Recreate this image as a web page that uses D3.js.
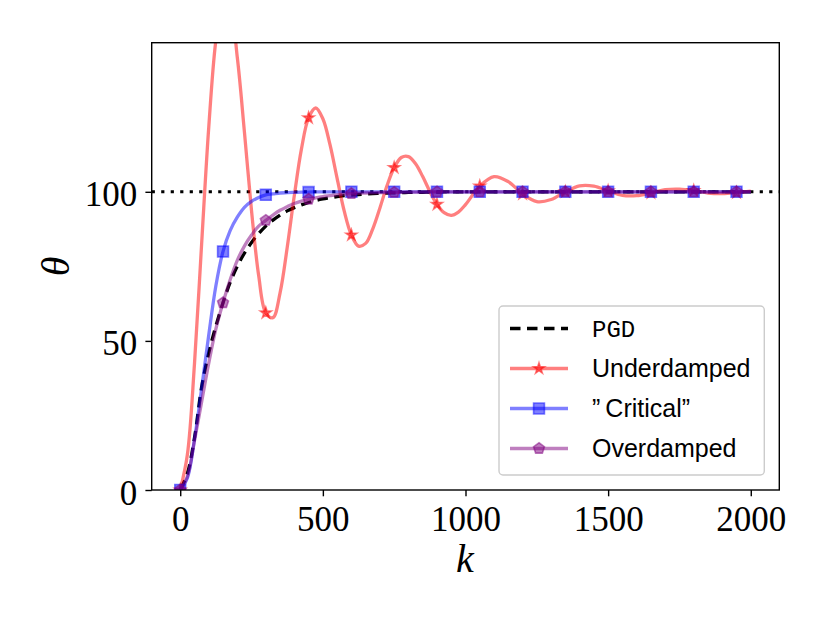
<!DOCTYPE html>
<html>
<head>
<meta charset="utf-8">
<script src="https://cdn.jsdelivr.net/npm/d3@7"></script>
<style>
  html, body { margin: 0; padding: 0; background: #ffffff; }
  svg { display: block; }
</style>
</head>
<body>
<svg id="chart" width="830" height="623"></svg>
<script>
// ---------- data ----------
const kValues = [0,25,50,75,100,125,150,175,200,225,250,275,300,325,350,375,400,425,450,475,
  500,525,550,575,600,625,650,675,700,725,750,775,800,825,850,875,900,925,950,975,1000,
  1050,1100,1150,1200,1250,1300,1350,1400,1450,1500,1550,1600,1650,1700,1750,1800,1850,1900,1950,2000];

const pgdValues = [0,5.5,17.5,34.5,46,55,62.8,69.6,75,79.4,83,86,88.5,90.5,92.2,93.6,94.7,95.6,96.4,97.1,
  97.6,98,98.4,98.7,98.9,99.1,99.25,99.4,99.5,99.6,99.65,99.7,99.8,99.85,99.85,99.9,99.9,99.95,99.95,99.95,99.95,
  100,100,100,100,100,100,100,100,100,100,100,100,100,100,100,100,100,100,100,100];

const underdampedValues = [0,11.8,42.4,82.5,121.6,150.8,164.6,161.8,145.1,120.1,93.6,71.9,59.4,57.8,66.1,81.3,98.8,114.4,124.8,128.1,
  124.5,115.8,104.5,93.5,85.5,81.8,82.7,87.6,94.6,102.1,108.1,111.5,111.8,109.4,105.1,100.1,95.8,93.0,92.1,93.2,95.7,
  101.9,105.1,103.4,99.3,96.7,97.4,100.0,102.0,101.9,100.3,98.8,98.7,99.6,100.7,100.9,100.4,99.6,99.4,99.7,100.2];

const criticalValues = [0,4,17,34,52,68.5,80,87,91.5,94.8,96.8,98.1,99.0,99.3,99.6,99.7,99.8,99.9,99.9,100,
  100,100,100,100,100,100,100,100,100,100,100,100,100,100,100,100,100,100,100,100,100,
  100,100,100,100,100,100,100,100,100,100,100,100,100,100,100,100,100,100,100,100];

const overdampedValues = [0,4.5,16.5,29.5,42.5,54,62.8,70.5,77,81.8,85.5,88.5,90.4,92.2,93.8,95,96.1,96.9,97.5,98,
  98.4,98.7,99,99.2,99.4,99.5,99.6,99.65,99.7,99.75,99.8,99.85,99.9,99.9,99.9,99.95,99.95,99.95,100,100,100,
  100,100,100,100,100,100,100,100,100,100,100,100,100,100,100,100,100,100,100,100];

const referenceValue = 100;
const markerEvery = 150;
const xTicks = [0, 500, 1000, 1500, 2000];
const yTicks = [0, 50, 100];
const seriesNames = ["PGD", "Underdamped", "\u201D\u2009Critical\u201D", "Overdamped"];
const xLabel = "k";
const yLabel = "\u03B8";

// ---------- layout ----------
const svg = d3.select("#chart");
const L = 151.7, R = 779.3, T = 42.7, B = 490;
const x = d3.scaleLinear().domain([-100, 2100]).range([L, R]);
const y = d3.scaleLinear().domain([0, 150]).range([B, T]);

const serif = "'Liberation Serif', 'DejaVu Serif', serif";
const sans = "'Liberation Sans', Arial, sans-serif";
const mono = "'Liberation Mono', 'DejaVu Sans Mono', monospace";

svg.append("defs").append("clipPath").attr("id", "plotclip")
  .append("rect").attr("x", L).attr("y", T).attr("width", R - L).attr("height", B - T);

// pentagon symbol (matplotlib 'p')
const symbolPentagon = {
  draw(context, size) {
    const r = Math.sqrt(size);
    for (let i = 0; i < 5; i++) {
      const a = -Math.PI / 2 + i * 2 * Math.PI / 5;
      const px = r * Math.cos(a), py = r * Math.sin(a);
      if (i === 0) context.moveTo(px, py); else context.lineTo(px, py);
    }
    context.closePath();
  }
};

const mkData = vals => kValues.map((k, i) => ({ k, v: vals[i] }));

const series = [
  { name: seriesNames[0], data: mkData(pgdValues), color: "#000000", opacity: 1, dash: "10.5,6.5", width: 3.3, symbol: null },
  { name: seriesNames[1], data: mkData(underdampedValues), color: "#ff0000", opacity: 0.5, dash: null, width: 3.3,
    symbol: d3.symbol().type(d3.symbolStar).size(38) },
  { name: seriesNames[2], data: mkData(criticalValues), color: "#0000ff", opacity: 0.5, dash: null, width: 3.3,
    symbol: d3.symbol().type(d3.symbolSquare).size(118) },
  { name: seriesNames[3], data: mkData(overdampedValues), color: "#800080", opacity: 0.5, dash: null, width: 3.3,
    symbol: d3.symbol().type(symbolPentagon).size(33) }
];

const plot = svg.append("g").attr("clip-path", "url(#plotclip)");

// reference dotted line
plot.append("line")
  .attr("x1", x.range()[0]).attr("x2", x.range()[1])
  .attr("y1", y(referenceValue)).attr("y2", y(referenceValue))
  .attr("stroke", "#000").attr("stroke-width", 3).attr("stroke-dasharray", "3.2,6.3");

const line = d3.line().x(d => x(d.k)).y(d => y(d.v)).curve(d3.curveCatmullRom.alpha(0.5));

series.forEach(s => {
  plot.append("path").datum(s.data)
    .attr("d", line)
    .attr("fill", "none")
    .attr("stroke", s.color)
    .attr("stroke-opacity", s.opacity)
    .attr("stroke-width", s.width)
    .attr("stroke-dasharray", s.dash)
    .attr("stroke-linejoin", "round");
  if (s.symbol) {
    plot.selectAll(null).data(s.data.filter(d => d.k % markerEvery === 0))
      .enter().append("path")
      .attr("transform", d => `translate(${x(d.k)},${y(d.v)})`)
      .attr("d", s.symbol)
      .attr("fill", s.color).attr("fill-opacity", s.opacity)
      .attr("stroke", s.color).attr("stroke-opacity", s.opacity).attr("stroke-width", 1.6);
  }
});

// axes
const xAxis = d3.axisBottom(x).tickValues(xTicks).tickFormat(d3.format("d"))
  .tickSize(6.3).tickPadding(9.4).tickSizeOuter(0);
const yAxis = d3.axisLeft(y).tickValues(yTicks).tickFormat(d3.format("d"))
  .tickSize(6.3).tickPadding(8.1).tickSizeOuter(0);

const gx = svg.append("g").attr("transform", `translate(0,${B})`).call(xAxis);
const gy = svg.append("g").attr("transform", `translate(${L},0)`).call(yAxis);
[gx, gy].forEach(g => {
  g.select(".domain").remove();
  g.selectAll(".tick line").attr("stroke", "#000").attr("stroke-width", 1.4);
  g.selectAll(".tick text").attr("font-family", serif).attr("font-size", 35).attr("fill", "#000");
});
gy.selectAll(".tick text").attr("dy", "0.4em");

// frame
svg.append("rect").attr("x", L).attr("y", T).attr("width", R - L).attr("height", B - T)
  .attr("fill", "none").attr("stroke", "#000").attr("stroke-width", 1.4);

// axis labels
svg.append("text").attr("x", (L + R) / 2 - 0.5).attr("y", 572)
  .attr("text-anchor", "middle").attr("font-family", serif).attr("font-style", "italic")
  .attr("font-size", 40).text(xLabel);
svg.append("text").attr("transform", `translate(69,${(T + B) / 2}) rotate(-90)`)
  .attr("text-anchor", "middle").attr("font-family", serif).attr("font-style", "italic")
  .attr("font-size", 40).text(yLabel);

// legend
const lg = svg.append("g");
lg.append("rect").attr("x", 499).attr("y", 306).attr("width", 265.3).attr("height", 169)
  .attr("rx", 4).attr("ry", 4)
  .attr("fill", "#fff").attr("fill-opacity", 0.8).attr("stroke", "#cccccc").attr("stroke-width", 1.4);
const rowY = [328.5, 368.5, 408.5, 448.5];
series.forEach((s, i) => {
  const ry = rowY[i];
  lg.append("line").attr("x1", 510).attr("x2", 568).attr("y1", ry).attr("y2", ry)
    .attr("stroke", s.color).attr("stroke-opacity", s.opacity).attr("stroke-width", s.width)
    .attr("stroke-dasharray", s.dash);
  if (s.symbol) {
    lg.append("path").attr("transform", `translate(539,${ry})`).attr("d", s.symbol)
      .attr("fill", s.color).attr("fill-opacity", s.opacity)
      .attr("stroke", s.color).attr("stroke-opacity", s.opacity).attr("stroke-width", 1.6);
  }
  lg.append("text").attr("x", 592).attr("y", ry + 8.5)
    .attr("font-family", i === 0 ? mono : sans).attr("font-size", i === 0 ? 24 : 25)
    .attr("fill", "#000").text(s.name);
});
</script>
</body>
</html>
